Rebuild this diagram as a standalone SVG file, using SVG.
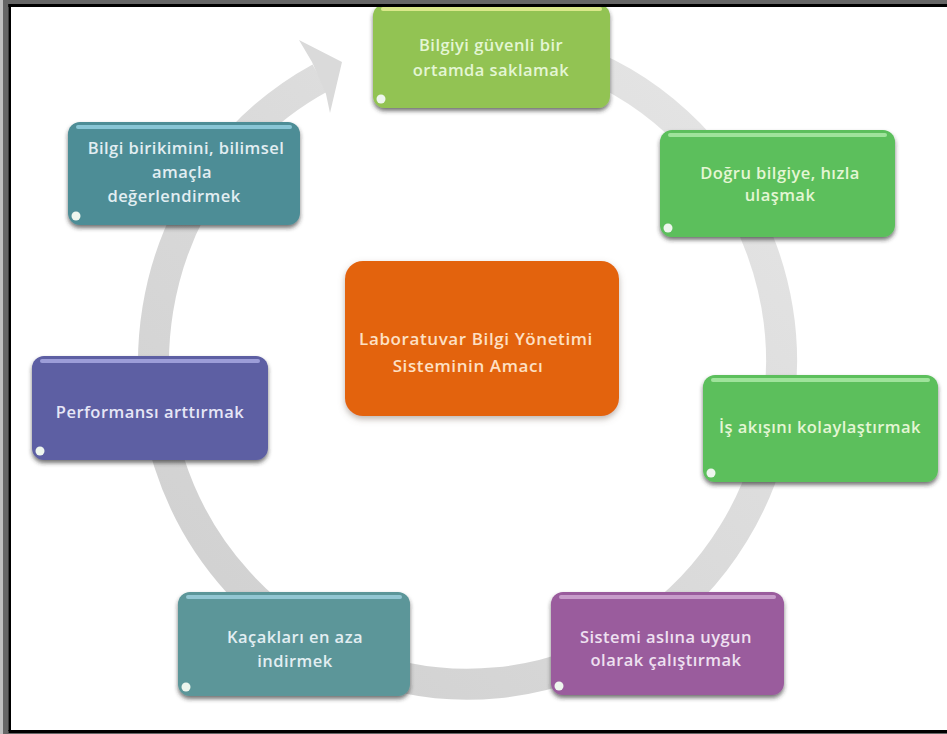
<svg xmlns="http://www.w3.org/2000/svg" width="947" height="734" viewBox="0 0 947 734">
<defs>
<filter id="sh" x="-10%" y="-10%" width="120%" height="130%">
<feDropShadow dx="0" dy="3" stdDeviation="2.2" flood-color="#2a2a2a" flood-opacity="0.65"/>
</filter>
<filter id="shc" x="-10%" y="-10%" width="120%" height="130%">
<feDropShadow dx="0" dy="3" stdDeviation="3" flood-color="#7a6a60" flood-opacity="0.5"/>
</filter>
<linearGradient id="ringg" gradientUnits="userSpaceOnUse" x1="150" y1="680" x2="780" y2="40">
<stop offset="0" stop-color="#cfcfcf"/>
<stop offset="0.5" stop-color="#dadada"/>
<stop offset="1" stop-color="#e6e6e6"/>
</linearGradient>
</defs>
<style>
.box{filter:url(#sh)}
.hl{opacity:0.75}
.dot{fill:#eef6ee}
text{font-family:"Open Sans","Liberation Sans",sans-serif;font-weight:600;font-size:16.5px;letter-spacing:0.45px;text-anchor:middle}
.tg{fill:#e4f6d4}
.tt{fill:#e2eef2}
.tp{fill:#eee0f0}
.ti{fill:#e6e6f6}
.to{fill:#fde0c4;font-size:17px;letter-spacing:0.6px}
</style>
<rect width="947" height="734" fill="#ffffff"/>
<g id="connectors">
<path d="M560,54.5 A314,322 0 1 1 320,78" fill="none" stroke="url(#ringg)" stroke-width="31"/>
<polygon points="312,62 299,40 342,62 330,113 326,94" fill="#dadada"/>
</g>
<g id="n1">
<rect class="box" x="373" y="4" width="237" height="104" rx="12" fill="#92c353"/>
<rect class="hl" x="381" y="7" width="221" height="4" rx="2" fill="#f1f49c"/>
<circle class="dot" cx="381" cy="99" r="4.5" fill="#eef6d6"/>
<text class="tg" x="491" y="51">Bilgiyi güvenli bir</text>
<text class="tg" x="491" y="76">ortamda saklamak</text>
</g>
<g id="n2">
<rect class="box" x="660" y="130" width="235" height="107" rx="12" fill="#5bbf5c"/>
<rect class="hl" x="668" y="133" width="219" height="4" rx="2" fill="#b6efb0"/>
<circle class="dot" cx="668" cy="228" r="4.5"/>
<text class="tg" x="780" y="179">Doğru bilgiye, hızla</text>
<text class="tg" x="780" y="201">ulaşmak</text>
</g>
<g id="n3">
<rect class="box" x="703" y="375" width="235" height="107" rx="12" fill="#5bbf5c"/>
<rect class="hl" x="711" y="378" width="219" height="4" rx="2" fill="#b6efb0"/>
<circle class="dot" cx="711" cy="473" r="4.5"/>
<text class="tg" x="820" y="433">İş akışını kolaylaştırmak</text>
</g>
<g id="n4">
<rect class="box" x="551" y="592" width="233" height="103" rx="12" fill="#9a5b9d"/>
<rect class="hl" x="559" y="595" width="217" height="4" rx="2" fill="#d6b2da"/>
<circle class="dot" cx="559" cy="686" r="4.5"/>
<text class="tp" x="666" y="643">Sistemi aslına uygun</text>
<text class="tp" x="666" y="666">olarak çalıştırmak</text>
</g>
<g id="n5">
<rect class="box" x="178" y="592" width="232" height="104" rx="12" fill="#5b9699"/>
<rect class="hl" x="186" y="595" width="216" height="4" rx="2" fill="#a4d6e6"/>
<circle class="dot" cx="186" cy="687" r="4.5"/>
<text class="tt" x="295" y="643">Kaçakları en aza</text>
<text class="tt" x="295" y="667">indirmek</text>
</g>
<g id="n6">
<rect class="box" x="32" y="356" width="236" height="104" rx="12" fill="#5d5ea3"/>
<rect class="hl" x="40" y="359" width="220" height="4" rx="2" fill="#b2b2ea"/>
<circle class="dot" cx="40" cy="451" r="4.5"/>
<text class="ti" x="150" y="418">Performansı arttırmak</text>
</g>
<g id="n7">
<rect class="box" x="68" y="122" width="232" height="103" rx="12" fill="#4e8d96"/>
<rect class="hl" x="76" y="125" width="216" height="4" rx="2" fill="#9cd8ea"/>
<circle class="dot" cx="76" cy="216" r="4.5"/>
<text class="tt" x="186" y="154">Bilgi birikimini, bilimsel</text>
<text class="tt" x="182" y="178">amaçla</text>
<text class="tt" x="174" y="202">değerlendirmek</text>
</g>
<g id="n8">
<rect x="345" y="261" width="274" height="155" rx="18" fill="#e3640c" filter="url(#shc)"/>
<text class="to" x="476" y="345">Laboratuvar Bilgi Yönetimi</text>
<text class="to" x="468" y="372">Sisteminin Amacı</text>
</g>
<g id="frame">
<rect x="0" y="0" width="3" height="734" fill="#c0c0c0"/>
<rect x="3" y="0" width="5.3" height="734" fill="#666666"/>
<rect x="3" y="0" width="944" height="4" fill="#666666"/>
<rect x="8.3" y="4" width="938.7" height="3" fill="#000000"/>
<rect x="8.3" y="4" width="2.7" height="727" fill="#000000"/>
<rect x="8.3" y="730" width="938.7" height="3" fill="#000000"/>
<rect x="3" y="733" width="944" height="1" fill="#666666"/>
</g>
</svg>
